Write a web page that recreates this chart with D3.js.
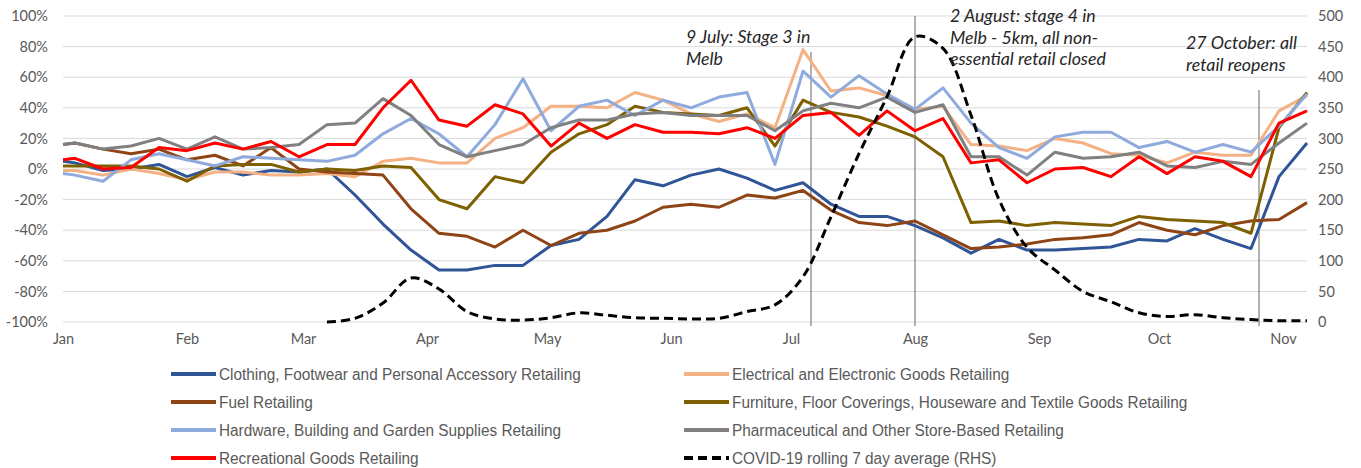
<!DOCTYPE html>
<html>
<head>
<meta charset="utf-8">
<script src="https://cdn.jsdelivr.net/npm/d3@7"></script>
<style>
  body { margin: 0; background: #ffffff; }
  svg { display: block; }
</style>
</head>
<body>
<svg id="chart" width="1361" height="468"></svg>
<script>
// ---------------- DATA ----------------
const dateStrings = [
  "2020-01-01","2020-01-04","2020-01-11","2020-01-18","2020-01-25",
  "2020-02-01","2020-02-08","2020-02-15","2020-02-22","2020-02-29",
  "2020-03-07","2020-03-14","2020-03-21","2020-03-28",
  "2020-04-04","2020-04-11","2020-04-18","2020-04-25",
  "2020-05-02","2020-05-09","2020-05-16","2020-05-23","2020-05-30",
  "2020-06-06","2020-06-13","2020-06-20","2020-06-27",
  "2020-07-04","2020-07-11","2020-07-18","2020-07-25",
  "2020-08-01","2020-08-08","2020-08-15","2020-08-22","2020-08-29",
  "2020-09-05","2020-09-12","2020-09-19","2020-09-26",
  "2020-10-03","2020-10-10","2020-10-17","2020-10-24","2020-10-31",
  "2020-11-07"
];

const seriesNames = [
  "Clothing, Footwear and Personal Accessory Retailing",
  "Electrical and Electronic Goods Retailing",
  "Fuel Retailing",
  "Furniture, Floor Coverings, Houseware and Textile Goods Retailing",
  "Hardware, Building and Garden Supplies Retailing",
  "Pharmaceutical and Other Store-Based Retailing",
  "Recreational Goods Retailing"
];
const covidName = "COVID-19 rolling 7 day average (RHS)";

// % change (left axis)
const clothing = [5,4,-1,0,3, -5,1,-4,-1,-2, 0,-17,-36,-53, -66,-66,-63,-63, -50,-46,-31,-7,-11, -4,0,-6,-14, -9,-23,-31,-31, -37,-45,-55,-46,-53, -53,-52,-51,-46, -47,-39,-46,-52,-5, 17];
const electrical = [-1,-1,-4,0,-3, -7,-2,-2,-4,-4, -3,-5,5,7, 4,4,20,27, 41,41,40,50,45, 36,31,36,27, 78,51,53,48, 39,41,16,15,12, 20,17,10,9, 4,11,9,9,38, 48];
const fuel = [16,17,13,10,13, 6,9,2,14,0, -2,-3,-4,-26, -42,-44,-51,-40, -50,-42,-40,-34,-25, -23,-25,-17,-19, -14,-27,-35,-37, -34,-43,-52,-51,-49, -46,-45,-43,-35, -40,-43,-37,-34,-33, -22];
const furniture = [2,2,2,2,0, -8,2,3,3,-2, 0,-1,2,1, -20,-26,-5,-9, 11,23,29,41,37, 36,35,40,15, 45,37,34,28, 21,8,-35,-34,-37, -35,-36,-37,-31, -33,-34,-35,-42,27, 50];
const hardware = [-3,-4,-8,6,10, 6,2,8,7,6, 5,9,23,33, 23,8,29,59, 25,41,45,35,45, 40,47,50,3, 64,47,61,49, 39,53,30,14,7, 21,24,24,14, 18,11,16,11,28, 49];
const pharmaceutical = [16,17,13,15,20, 13,21,13,14,16, 29,30,46,35, 16,8,12,16, 27,32,32,36,37, 35,35,35,25, 38,43,40,47, 37,42,8,8,-4, 11,7,8,11, 2,1,5,3,17, 30];
const recreational = [6,7,0,1,14, 12,17,13,18,8, 16,16,40,58, 32,28,42,36, 15,30,20,29,24, 24,23,27,20, 35,37,22,38, 25,33,4,6,-9, 0,1,-5,8, -3,8,5,-5,30, 38];

// COVID-19 rolling 7 day average (right axis), from 7 March
const covidDateStrings = dateStrings.slice(10);
const covid = [0,6,31,72, 54,17,5,3, 7,15,11,7,6, 5,6,17,28, 74,172,275,368, 466,447,338,200,122, 85,50,33,15, 9,12,7,4,2, 2];

const leftTicks = [-100,-80,-60,-40,-20,0,20,40,60,80,100];
const rightTicks = [0,50,100,150,200,250,300,350,400,450,500];
const monthDates = ["2020-01-01","2020-02-01","2020-03-01","2020-04-01","2020-05-01","2020-06-01","2020-07-01","2020-08-01","2020-09-01","2020-10-01","2020-11-01"];
const monthLabels = ["Jan","Feb","Mar","Apr","May","Jun","Jul","Aug","Sep","Oct","Nov"];

const annotationDates = ["2020-07-06","2020-08-01","2020-10-26"];
const annotationTexts = [
  ["9 July: Stage 3 in","Melb"],
  ["2 August: stage 4 in","Melb - 5km, all non-","essential retail closed"],
  ["27 October: all","retail reopens"]
];

// ---------------- STYLE / LAYOUT ----------------
const seriesColors = ["#2f5597","#f4b183","#8e4415","#7f6000","#8faadc","#808080","#ff0000"];
const plot = {left: 63, right: 1307, top: 16, bottom: 322};
const axisFont = "Lato, 'Open Sans', sans-serif";

const parse = d3.timeParse("%Y-%m-%d");
const dates = dateStrings.map(parse);
const covidDates = covidDateStrings.map(parse);
const seriesValues = [clothing, electrical, fuel, furniture, hardware, pharmaceutical, recreational];

const svg = d3.select("#chart");

const x = d3.scaleTime()
  .domain([parse("2020-01-01"), parse("2020-11-07")])
  .range([plot.left, plot.right]);
const yL = d3.scaleLinear().domain([-100, 100]).range([plot.bottom, plot.top]);
const yR = d3.scaleLinear().domain([0, 500]).range([plot.bottom, plot.top]);

// gridlines
svg.append("g").selectAll("line").data(leftTicks).join("line")
  .attr("x1", plot.left).attr("x2", plot.right)
  .attr("y1", d => yL(d)).attr("y2", d => yL(d))
  .attr("stroke", "#d9d9d9").attr("stroke-width", 1);

// left axis
const gl = svg.append("g").attr("transform", `translate(${plot.left},0)`)
  .call(d3.axisLeft(yL).tickValues(leftTicks).tickFormat(d => d + "%").tickSize(0).tickPadding(15));
gl.select(".domain").remove();
gl.selectAll("text").attr("fill", "#595959").style("font-family", axisFont).style("font-size", "14.5px");

// right axis
const gr = svg.append("g").attr("transform", `translate(${plot.right},0)`)
  .call(d3.axisRight(yR).tickValues(rightTicks).tickSize(0).tickPadding(11));
gr.select(".domain").remove();
gr.selectAll("text").attr("fill", "#595959").style("font-family", axisFont).style("font-size", "14.5px");

// bottom axis (months)
const gb = svg.append("g").attr("transform", `translate(0,${plot.bottom})`)
  .call(d3.axisBottom(x).tickValues(monthDates.map(parse))
    .tickFormat((d, i) => monthLabels[i]).tickSize(0).tickPadding(12));
gb.select(".domain").remove();
gb.selectAll("text").attr("fill", "#595959").style("font-family", axisFont).style("font-size", "14.5px");

// annotation vertical lines
const annLineTops = [52, 16, 90];
svg.append("g").selectAll("line").data(annotationDates).join("line")
  .attr("x1", d => x(parse(d))).attr("x2", d => x(parse(d)))
  .attr("y1", (d, i) => annLineTops[i]).attr("y2", plot.bottom + 4)
  .attr("stroke", "#7f7f7f").attr("stroke-width", 1.2);

// retail series
const line = d3.line().x((d, i) => x(dates[i])).y(d => yL(d));
svg.append("g").selectAll("path").data(seriesValues).join("path")
  .attr("d", d => line(d))
  .attr("fill", "none")
  .attr("stroke", (d, i) => seriesColors[i])
  .attr("stroke-width", 3)
  .attr("stroke-linejoin", "round");

// covid series
const covidLine = d3.line().x((d, i) => x(covidDates[i])).y(d => yR(d)).curve(d3.curveCatmullRom.alpha(0.5));
svg.append("path").datum(covid)
  .attr("d", covidLine)
  .attr("fill", "none")
  .attr("stroke", "#000")
  .attr("stroke-width", 3)
  .attr("stroke-dasharray", "9,5");

// annotation text
const annTextPos = [
  {x: 686, y: 43},
  {x: 950, y: 22},
  {x: 1186, y: 49}
];
const annFontFamily = "Lato, 'Open Sans', sans-serif";
const annG = svg.append("g");
annotationTexts.forEach((lines, i) => {
  lines.forEach((t, j) => {
    annG.append("text")
      .attr("x", annTextPos[i].x)
      .attr("y", annTextPos[i].y + j * 21.5)
      .attr("fill", "#262626")
      .style("font-family", annFontFamily)
      .style("font-style", "italic")
      .style("font-size", "15px")
      .text(t);
  });
});
// fit annotation font size to reference width
{
  const probe = annG.selectAll("text").filter(function () { return d3.select(this).text() === "essential retail closed"; });
  const w = probe.node().getComputedTextLength();
  const fs = 15 * 156 / w;
  annG.selectAll("text").style("font-size", fs + "px");
}

// legend
const legendNames = seriesNames.concat([covidName]);
const legendColors = seriesColors.concat(["#000"]);
const legCols = [171, 684];
const legRows = [374, 402, 430, 458];
const swatchLen = 45;
const legG = svg.append("g");
const legItems = legG.selectAll("g").data(legendNames).join("g")
  .attr("transform", (d, i) => `translate(${legCols[i % 2]},${legRows[Math.floor(i / 2)]})`);
legItems.append("line")
  .attr("x1", 0).attr("x2", swatchLen).attr("y1", 0).attr("y2", 0)
  .attr("stroke", (d, i) => legendColors[i])
  .attr("stroke-width", 4)
  .attr("stroke-dasharray", (d, i) => i === 7 ? "9,5" : null);
const legTexts = legItems.append("text")
  .attr("x", 0).attr("y", 0)
  .attr("dy", "0.35em")
  .attr("fill", "#595959")
  .style("font-family", "'Liberation Sans Narrow', 'Arial Narrow', 'Liberation Sans', Arial, sans-serif")
  .style("font-size", "16px")
  .text(d => d);
{
  const w0 = legTexts.filter((d, i) => i === 0).node().getComputedTextLength();
  const k = 362 / w0;
  legTexts.attr("transform", `translate(${swatchLen + 3},0) scale(${k},1)`);
}
</script>
</body>
</html>
